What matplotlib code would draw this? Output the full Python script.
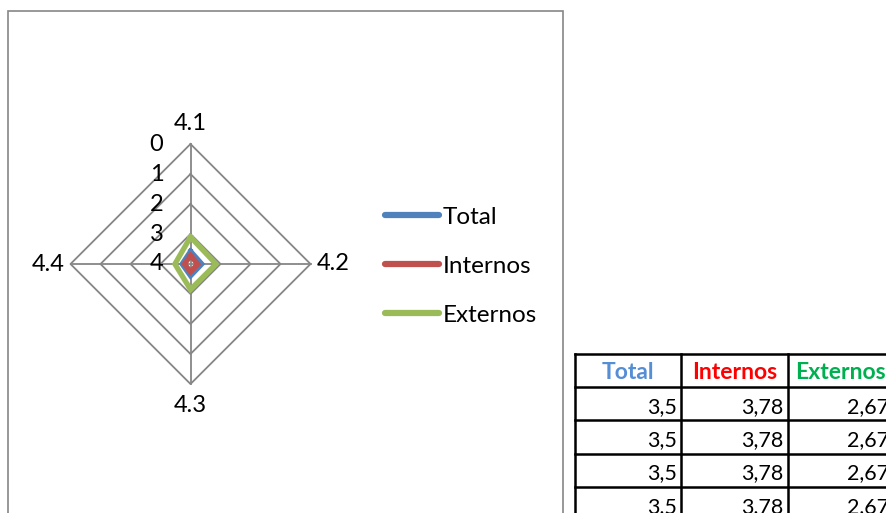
import numpy as np
import matplotlib
matplotlib.use("Agg")
import matplotlib.pyplot as plt
from matplotlib.patches import Rectangle

plt.rcParams['font.family'] = ['Lato', 'DejaVu Sans']

# Radar data (one value per category)
categories = ["4.1", "4.2", "4.3", "4.4"]
series_names = ["Total", "Internos", "Externos"]
radar_total = [3.55, 3.6, 3.58, 3.7]
radar_internos = [3.72, 3.76, 3.74, 3.8]
radar_externos = [3.1, 3.15, 3.15, 3.48]
ring_ticks = [0, 1, 2, 3, 4]
r_max = 4  # radial axis is reversed: 0 on the outer ring, 4 at the centre

# Summary table beside the chart
table_total = [3.5, 3.5, 3.5, 3.5]
table_internos = [3.78, 3.78, 3.78, 3.78]
table_externos = [2.67, 2.67, 2.67, 2.67]

series_colors = ["#4F81BD", "#C0504D", "#9BBB59"]
header_colors = ["#558ED5", "#FF0000", "#00B050"]
grid_color = "#868686"

W, H = 886, 513
fig = plt.figure(figsize=(W / 100, H / 100), dpi=100)

# Chart area frame
fig.patches.append(Rectangle((8 / W, -10 / H), 555 / W, (H - 11 + 10) / H,
                             transform=fig.transFigure, fill=False,
                             edgecolor=grid_color, lw=1.2))

# Radar axes (cartesian, 1 unit = 30 px)
cx, cy, unit = 190.5, H - 264, 30
half = 5 * unit
ax = fig.add_axes([(cx - half) / W, (cy - half) / H, 2 * half / W, 2 * half / H])
ax.set_xlim(-5, 5)
ax.set_ylim(-5, 5)
ax.axis('off')

angles = np.pi / 2 - np.arange(len(categories)) * 2 * np.pi / len(categories)


def to_xy(values):
    r = r_max - np.asarray(values, dtype=float)
    x = r * np.cos(angles)
    y = r * np.sin(angles)
    return np.append(x, x[0]), np.append(y, y[0])


# Grid rings and spokes
for t in ring_ticks[:-1]:
    gx, gy = to_xy([t] * len(categories))
    ax.plot(gx, gy, color=grid_color, lw=1.3, zorder=1)
for a in angles:
    ax.plot([0, r_max * np.cos(a)], [0, r_max * np.sin(a)],
            color=grid_color, lw=1.3, zorder=1)

# Ring labels along the first spoke
for t in ring_ticks:
    ax.text(-0.9, r_max - t, str(t), ha='right', va='center',
            fontsize=17, color='black')

# Category labels
for cat, a in zip(categories, angles):
    horiz = abs(np.cos(a)) > 0.5
    off = r_max + (0.2 if horiz else 0.35)
    x, y = off * np.cos(a), off * np.sin(a)
    ha = 'center' if not horiz else ('left' if np.cos(a) > 0 else 'right')
    va = 'center' if horiz else ('bottom' if np.sin(a) > 0 else 'top')
    ax.text(x, y, cat, ha=ha, va=va, fontsize=17, color='black')

# Series
widths = [3.0, 3.8, 3.8]
for name, vals, col, lw in zip(series_names,
                               [radar_total, radar_internos, radar_externos],
                               series_colors, widths):
    sx, sy = to_xy(vals)
    ax.plot(sx, sy, color=col, lw=lw, solid_joinstyle='miter', zorder=3,
            label=name)

# Legend
handles, labels = ax.get_legend_handles_labels()
leg = fig.legend(handles, labels, loc='upper left',
                 bbox_to_anchor=(375 / W, 1 - 197 / H),
                 frameon=False, fontsize=17.5, handlelength=2.25,
                 handletextpad=0.13, labelspacing=1.15, borderaxespad=0)
for line in leg.get_lines():
    line.set_linewidth(4.5)
    line.set_solid_capstyle('round')

# Data table
col_w, row_h = 106.3, 33.2
tx0, ty0 = 575, 354
n_rows = len(table_total) + 1
tax = fig.add_axes([tx0 / W, (H - ty0 - n_rows * row_h) / H,
                    3 * col_w / W, n_rows * row_h / H])
tax.set_xlim(0, 3)
tax.set_ylim(n_rows, 0)
tax.axis('off')
for i in range(4):
    tax.plot([i, i], [0, n_rows], color='black', lw=1.8, clip_on=False)
for j in range(n_rows + 1):
    tax.plot([0, 3], [j, j], color='black', lw=1.8, clip_on=False)
for i, (name, col) in enumerate(zip(series_names, header_colors)):
    tax.text(i + 0.5, 0.56, name, ha='center', va='center', fontsize=16.5,
             fontweight='bold', color=col, clip_on=False)
for i, vals in enumerate([table_total, table_internos, table_externos]):
    for j, v in enumerate(vals):
        s = f"{v:g}".replace('.', ',')
        tax.text(i + 0.958, j + 1.6, s, ha='right', va='center', fontsize=15.5,
                 color='black', clip_on=False)

fig.savefig("out.png", dpi=100)
